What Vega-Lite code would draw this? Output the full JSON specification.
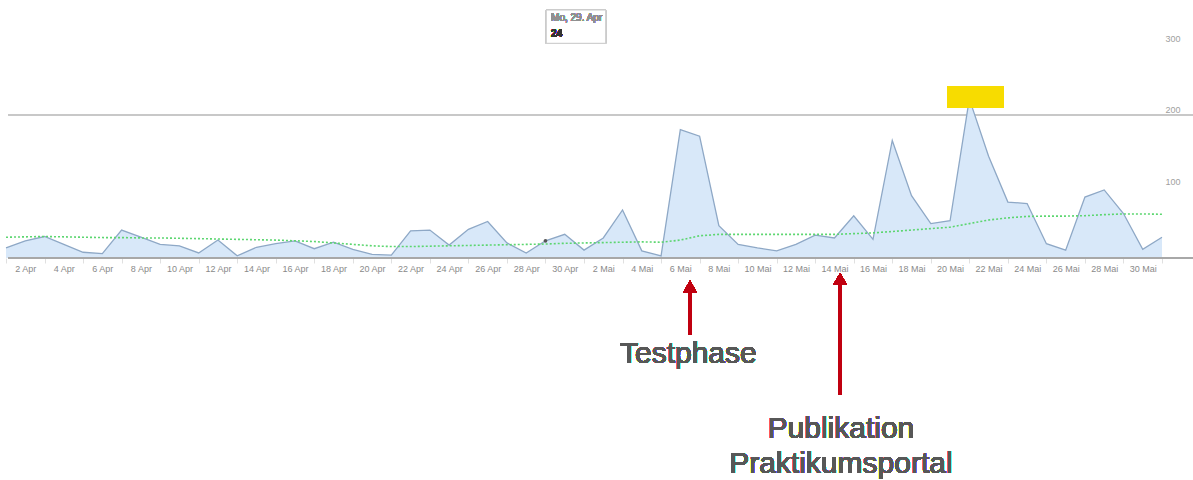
{
  "$schema": "https://vega.github.io/schema/vega-lite/v6.json",
  "autosize": "none",
  "width": 1156,
  "height": 215,
  "padding": {"left": 6, "top": 43, "right": 31, "bottom": 222},
  "background": "white",
  "config": {"view": {"stroke": null}, "font": "Liberation Sans"},
  "data": {"values": [
    {"date": "2013-04-01T00:00:00Z", "visits": 14, "trend": 29},
    {"date": "2013-04-02T00:00:00Z", "visits": 24, "trend": 29.5},
    {"date": "2013-04-03T00:00:00Z", "visits": 30, "trend": 30},
    {"date": "2013-04-04T00:00:00Z", "visits": 19, "trend": 29.5},
    {"date": "2013-04-05T00:00:00Z", "visits": 8, "trend": 29},
    {"date": "2013-04-06T00:00:00Z", "visits": 6, "trend": 28.5},
    {"date": "2013-04-07T00:00:00Z", "visits": 39, "trend": 28.5},
    {"date": "2013-04-08T00:00:00Z", "visits": 29, "trend": 28},
    {"date": "2013-04-09T00:00:00Z", "visits": 19, "trend": 28},
    {"date": "2013-04-10T00:00:00Z", "visits": 17, "trend": 27.5},
    {"date": "2013-04-11T00:00:00Z", "visits": 7, "trend": 27},
    {"date": "2013-04-12T00:00:00Z", "visits": 25, "trend": 26.5},
    {"date": "2013-04-13T00:00:00Z", "visits": 3, "trend": 26},
    {"date": "2013-04-14T00:00:00Z", "visits": 15, "trend": 25.5},
    {"date": "2013-04-15T00:00:00Z", "visits": 20, "trend": 25},
    {"date": "2013-04-16T00:00:00Z", "visits": 24, "trend": 24},
    {"date": "2013-04-17T00:00:00Z", "visits": 13, "trend": 23},
    {"date": "2013-04-18T00:00:00Z", "visits": 22, "trend": 21},
    {"date": "2013-04-19T00:00:00Z", "visits": 12, "trend": 19},
    {"date": "2013-04-20T00:00:00Z", "visits": 5, "trend": 17},
    {"date": "2013-04-21T00:00:00Z", "visits": 4, "trend": 16},
    {"date": "2013-04-22T00:00:00Z", "visits": 38, "trend": 16},
    {"date": "2013-04-23T00:00:00Z", "visits": 39, "trend": 16.5},
    {"date": "2013-04-24T00:00:00Z", "visits": 18, "trend": 17},
    {"date": "2013-04-25T00:00:00Z", "visits": 40, "trend": 17.5},
    {"date": "2013-04-26T00:00:00Z", "visits": 51, "trend": 18},
    {"date": "2013-04-27T00:00:00Z", "visits": 21, "trend": 18.5},
    {"date": "2013-04-28T00:00:00Z", "visits": 7, "trend": 19},
    {"date": "2013-04-29T00:00:00Z", "visits": 24, "trend": 19.5},
    {"date": "2013-04-30T00:00:00Z", "visits": 33, "trend": 20.5},
    {"date": "2013-05-01T00:00:00Z", "visits": 11, "trend": 21},
    {"date": "2013-05-02T00:00:00Z", "visits": 28, "trend": 21.5},
    {"date": "2013-05-03T00:00:00Z", "visits": 67, "trend": 22},
    {"date": "2013-05-04T00:00:00Z", "visits": 10, "trend": 22.5},
    {"date": "2013-05-05T00:00:00Z", "visits": 3, "trend": 22},
    {"date": "2013-05-06T00:00:00Z", "visits": 179, "trend": 25},
    {"date": "2013-05-07T00:00:00Z", "visits": 170, "trend": 31},
    {"date": "2013-05-08T00:00:00Z", "visits": 45, "trend": 33},
    {"date": "2013-05-09T00:00:00Z", "visits": 19, "trend": 33},
    {"date": "2013-05-10T00:00:00Z", "visits": 14, "trend": 33},
    {"date": "2013-05-11T00:00:00Z", "visits": 10, "trend": 33},
    {"date": "2013-05-12T00:00:00Z", "visits": 19, "trend": 33},
    {"date": "2013-05-13T00:00:00Z", "visits": 32, "trend": 33},
    {"date": "2013-05-14T00:00:00Z", "visits": 28, "trend": 33},
    {"date": "2013-05-15T00:00:00Z", "visits": 59, "trend": 34},
    {"date": "2013-05-16T00:00:00Z", "visits": 26, "trend": 35},
    {"date": "2013-05-17T00:00:00Z", "visits": 164, "trend": 37},
    {"date": "2013-05-18T00:00:00Z", "visits": 87, "trend": 39},
    {"date": "2013-05-19T00:00:00Z", "visits": 48, "trend": 41},
    {"date": "2013-05-20T00:00:00Z", "visits": 52, "trend": 43},
    {"date": "2013-05-21T00:00:00Z", "visits": 222, "trend": 48},
    {"date": "2013-05-22T00:00:00Z", "visits": 142, "trend": 53},
    {"date": "2013-05-23T00:00:00Z", "visits": 78, "trend": 56},
    {"date": "2013-05-24T00:00:00Z", "visits": 76, "trend": 58},
    {"date": "2013-05-25T00:00:00Z", "visits": 20, "trend": 58.5},
    {"date": "2013-05-26T00:00:00Z", "visits": 11, "trend": 58.5},
    {"date": "2013-05-27T00:00:00Z", "visits": 85, "trend": 59},
    {"date": "2013-05-28T00:00:00Z", "visits": 95, "trend": 60.5},
    {"date": "2013-05-29T00:00:00Z", "visits": 62, "trend": 61.5},
    {"date": "2013-05-30T00:00:00Z", "visits": 12, "trend": 61.5},
    {"date": "2013-05-31T00:00:00Z", "visits": 29, "trend": 61}
  ]},
  "layer": [
    {
      "mark": {"type": "rule", "color": "#c8c8c8", "strokeWidth": 1.5},
      "encoding": {
        "x": {"datum": {"year": 2013, "month": 4, "date": 1, "hours": 3, "utc": true}, "type": "temporal"},
        "x2": {"datum": {"year": 2013, "month": 6, "date": 1, "hours": 16, "utc": true}},
        "y": {"datum": 200, "type": "quantitative"}
      }
    },
    {
      "mark": {"type": "area", "color": "#d8e8f9", "opacity": 1, "line": {"color": "#8ea8c6", "strokeWidth": 1.3}},
      "encoding": {
        "x": {
          "field": "date", "type": "temporal", "title": null,
          "scale": {"type": "utc", "domain": [{"year": 2013, "month": 4, "date": 1, "utc": true}, {"year": 2013, "month": 5, "date": 31, "utc": true}]},
          "axis": {
            "tickCount": {"interval": "day", "step": 1},
            "labelExpr": "utcdate(datum.value) % 2 == 0 ? utcdate(datum.value) + ' ' + (utcmonth(datum.value) == 3 ? 'Apr' : 'Mai') : ''",
            "labelOverlap": false, "labelFlush": false, "labelBound": false,
            "labelFontSize": 9, "labelColor": "#8a8a8a", "labelPadding": 1, "labelFont": "Liberation Sans",
            "domain": false, "grid": false,
            "tickSize": 5,
            "tickColor": {"condition": {"test": "utcdate(datum.value) % 2 == 0", "value": "transparent"}, "value": "#e0e0e0"}
          }
        },
        "y": {
          "field": "visits", "type": "quantitative", "title": null,
          "scale": {"domain": [0, 300], "nice": false, "zero": false},
          "axis": {
            "orient": "right", "values": [100, 200, 300], "grid": false, "domain": false, "ticks": false,
            "labelFontSize": 9, "labelColor": "#a0a0a0", "labelBaseline": "bottom", "labelPadding": 3, "labelAlign": "left", "labelFont": "Liberation Sans"
          }
        }
      }
    },
    {
      "mark": {"type": "line", "color": "#5cd670", "strokeWidth": 1.6, "strokeDash": [2, 2]},
      "encoding": {
        "x": {"field": "date", "type": "temporal"},
        "y": {"field": "trend", "type": "quantitative"}
      }
    },
    {
      "transform": [{"filter": "utcdate(datum.date) == 29 && utcmonth(datum.date) == 3"}],
      "mark": {"type": "circle", "color": "#555555", "size": 14, "opacity": 1},
      "encoding": {
        "x": {"field": "date", "type": "temporal"},
        "y": {"field": "visits", "type": "quantitative"}
      }
    },
    {
      "mark": {"type": "rule", "color": "#a8a8a8", "strokeWidth": 1.5},
      "encoding": {
        "x": {"datum": {"year": 2013, "month": 4, "date": 1, "hours": 3, "utc": true}, "type": "temporal"},
        "x2": {"datum": {"year": 2013, "month": 6, "date": 1, "hours": 16, "utc": true}},
        "y": {"datum": 0, "type": "quantitative"}
      }
    },
    {
      "mark": {"type": "rect", "color": "#f7dc00"},
      "encoding": {
        "x": {"datum": {"year": 2013, "month": 5, "date": 19, "hours": 21, "utc": true}, "type": "temporal"},
        "x2": {"datum": {"year": 2013, "month": 5, "date": 22, "hours": 19, "utc": true}},
        "y": {"datum": 240, "type": "quantitative"},
        "y2": {"datum": 209.3}
      }
    },
    {
      "mark": {"type": "rect", "fill": "white", "stroke": "#cccccc", "strokeWidth": 1},
      "encoding": {
        "x": {"datum": {"year": 2013, "month": 4, "date": 29, "hours": 1, "utc": true}, "type": "temporal"},
        "x2": {"datum": {"year": 2013, "month": 5, "date": 2, "hours": 3, "utc": true}},
        "y": {"datum": 346, "type": "quantitative"},
        "y2": {"datum": 299.6}
      }
    },
    {
      "mark": {"type": "text", "text": "Mo, 29. Apr", "align": "left", "baseline": "middle", "fontSize": 10, "color": "#909090"},
      "encoding": {
        "x": {"datum": {"year": 2013, "month": 4, "date": 29, "hours": 7, "utc": true}, "type": "temporal"},
        "y": {"datum": 334.4, "type": "quantitative"}
      }
    },
    {
      "mark": {"type": "text", "text": "24", "align": "left", "baseline": "middle", "fontSize": 10, "fontWeight": "bold", "color": "#333333"},
      "encoding": {
        "x": {"datum": {"year": 2013, "month": 4, "date": 29, "hours": 7, "utc": true}, "type": "temporal"},
        "y": {"datum": 312.1, "type": "quantitative"}
      }
    },
    {
      "mark": {"type": "rule", "color": "#c00010", "strokeWidth": 3.5},
      "encoding": {
        "x": {"datum": {"year": 2013, "month": 5, "date": 6, "hours": 12, "utc": true}, "type": "temporal"},
        "y": {"datum": -44.6, "type": "quantitative"},
        "y2": {"datum": -107.4}
      }
    },
    {
      "mark": {"type": "point", "shape": "triangle-up", "filled": true, "color": "#c00010", "size": 196, "opacity": 1},
      "encoding": {
        "x": {"datum": {"year": 2013, "month": 5, "date": 6, "hours": 12, "utc": true}, "type": "temporal"},
        "y": {"datum": -40, "type": "quantitative"}
      }
    },
    {
      "mark": {"type": "rule", "color": "#c00010", "strokeWidth": 3.5},
      "encoding": {
        "x": {"datum": {"year": 2013, "month": 5, "date": 14, "hours": 7, "utc": true}, "type": "temporal"},
        "y": {"datum": -34.9, "type": "quantitative"},
        "y2": {"datum": -191.2}
      }
    },
    {
      "mark": {"type": "point", "shape": "triangle-up", "filled": true, "color": "#c00010", "size": 196, "opacity": 1},
      "encoding": {
        "x": {"datum": {"year": 2013, "month": 5, "date": 14, "hours": 7, "utc": true}, "type": "temporal"},
        "y": {"datum": -29.3, "type": "quantitative"}
      }
    },
    {
      "mark": {"type": "text", "text": "Testphase", "align": "center", "baseline": "alphabetic", "fontSize": 30, "color": "#575757"},
      "encoding": {
        "x": {"datum": {"year": 2013, "month": 5, "date": 6, "hours": 10, "utc": true}, "type": "temporal"},
        "y": {"datum": -146.5, "type": "quantitative"}
      }
    },
    {
      "mark": {"type": "text", "text": "Publikation", "align": "center", "baseline": "alphabetic", "fontSize": 30, "color": "#575757"},
      "encoding": {
        "x": {"datum": {"year": 2013, "month": 5, "date": 14, "hours": 8, "utc": true}, "type": "temporal"},
        "y": {"datum": -251.2, "type": "quantitative"}
      }
    },
    {
      "mark": {"type": "text", "text": "Praktikumsportal", "align": "center", "baseline": "alphabetic", "fontSize": 30, "color": "#575757"},
      "encoding": {
        "x": {"datum": {"year": 2013, "month": 5, "date": 14, "hours": 8, "utc": true}, "type": "temporal"},
        "y": {"datum": -300, "type": "quantitative"}
      }
    }
  ]
}
